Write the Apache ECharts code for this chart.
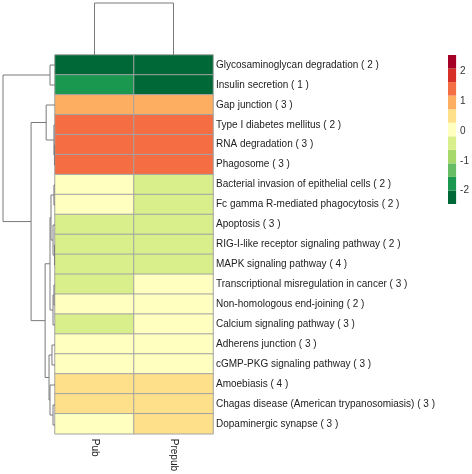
<!DOCTYPE html>
<html><head><meta charset="utf-8">
<script src="https://cdn.jsdelivr.net/npm/echarts@6/dist/echarts.min.js"></script>
<style>html,body{margin:0;padding:0;background:#fff}#c{width:472px;height:474px}</style>
</head><body><div id="c"></div>
<script>
// ---- data ----
const columns = ['Pub', 'Prepub'];
const pathways = [
  'Glycosaminoglycan degradation ( 2 )',
  'Insulin secretion ( 1 )',
  'Gap junction ( 3 )',
  'Type I diabetes mellitus ( 2 )',
  'RNA degradation ( 3 )',
  'Phagosome ( 3 )',
  'Bacterial invasion of epithelial cells ( 2 )',
  'Fc gamma R-mediated phagocytosis ( 2 )',
  'Apoptosis ( 3 )',
  'RIG-I-like receptor signaling pathway ( 2 )',
  'MAPK signaling pathway ( 4 )',
  'Transcriptional misregulation in cancer ( 3 )',
  'Non-homologous end-joining ( 2 )',
  'Calcium signaling pathway ( 3 )',
  'Adherens junction ( 3 )',
  'cGMP-PKG signaling pathway ( 3 )',
  'Amoebiasis ( 4 )',
  'Chagas disease (American trypanosomiasis) ( 3 )',
  'Dopaminergic synapse ( 3 )'
];
const pubValues    = [-2.25, -1.75, 0.95, 1.42, 1.40, 1.40, 0.08, 0.05, -0.40, -0.38, -0.45, -0.35, 0.10, -0.30, 0.12, 0.10, 0.55, 0.60, 0.15];
const prepubValues = [-2.20, -2.30, 0.92, 1.40, 1.45, 1.42, -0.40, -0.35, -0.45, -0.40, -0.42, 0.10, 0.15, 0.12, 0.08, 0.18, 0.60, 0.55, 0.60];
const legendTicks = [-2, -1, 0, 1, 2];
const colorMin = -2.45, colorMax = 2.55;
const palette = ['#006837','#1a9850','#66bd63','#a6d96a','#d9ef8b','#ffffbf','#fee08b','#fdae61','#f46d43','#d73027','#a50026'];
// dendrograms: [height, left, right]; leaves = row/column index
const rowTree = [1.0,
  [0.096, 0, 1],
  [0.46,
    [0.17, 2, [0.02, 3, [0.01, 4, 5]]],
    [0.19,
      [0.096,
        [0.077, [0.02, 6, 7], [0.038, 8, [0.01, 9, 10]]],
        [0.038, [0.02, 11, 12], 13]
      ],
      [0.115,
        [0.058, 14, 15],
        [0.096, 16, [0.038, 17, 18]]
      ]
    ]
  ]
];
const colTree = [1.0, 0, 1];

// ---- build ----
function layoutTree(node, segs) {
  if (typeof node === 'number') return { pos: node + 0.5, h: 0 };
  const L = layoutTree(node[1], segs), R = layoutTree(node[2], segs);
  segs.push([L.pos, R.pos, L.h, R.h, node[0]]);
  return { pos: (L.pos + R.pos) / 2, h: node[0] };
}
const rowSegs = []; layoutTree(rowTree, rowSegs);
const colSegs = []; layoutTree(colTree, colSegs);

const heatData = [];
pathways.forEach((p, i) => {
  heatData.push([0, i, pubValues[i]]);
  heatData.push([1, i, prepubValues[i]]);
});
const step = (colorMax - colorMin) / palette.length;
const pieces = palette.map((c, i) => ({ gte: colorMin + i * step - (i === 0 ? 10 : 0), lt: colorMin + (i + 1) * step + (i === palette.length - 1 ? 10 : 0), color: c }));
const barData = palette.map((c, i) => [0, colorMin + i * step, colorMin + (i + 0.5) * step, colorMin + (i + 1) * step]);

const lineStyle = { stroke: '#7a7a7a', lineWidth: 1, fill: null };
const font = 'Liberation Sans, Arial, sans-serif';
const hidden = { show: false };

const chart = echarts.init(document.getElementById('c'), null, { renderer: 'canvas' });
chart.setOption({
  animation: false,
  backgroundColor: '#fff',
  grid: [
    { left: 55, top: 55, width: 158, height: 380 },   // heatmap
    { left: 3, top: 55, width: 52, height: 380 },     // row dendrogram
    { left: 55, top: 3, width: 158, height: 52 },     // column dendrogram
    { left: 448, top: 55, width: 9, height: 149 }     // colour key
  ],
  xAxis: [
    { gridIndex: 0, type: 'category', data: columns, position: 'bottom',
      axisLine: hidden, axisTick: hidden, splitLine: hidden,
      axisLabel: { rotate: -90, margin: 5, fontSize: 10, color: '#222', fontFamily: font } },
    { gridIndex: 1, type: 'value', min: 0, max: 1, inverse: true, show: false },
    { gridIndex: 2, type: 'value', min: 0, max: 2, show: false },
    { gridIndex: 3, type: 'value', min: 0, max: 1, show: false }
  ],
  yAxis: [
    { gridIndex: 0, type: 'category', data: pathways, inverse: true, position: 'right',
      axisLine: hidden, axisTick: hidden, splitLine: hidden,
      axisLabel: { margin: 3, fontSize: 10, color: '#222', fontFamily: font } },
    { gridIndex: 1, type: 'value', min: 0, max: pathways.length, inverse: true, show: false },
    { gridIndex: 2, type: 'value', min: 0, max: 1, show: false },
    { gridIndex: 3, type: 'value', min: colorMin, max: colorMax, position: 'right',
      axisLine: hidden, axisTick: hidden, splitLine: hidden,
      axisLabel: { customValues: legendTicks, margin: 4, fontSize: 10, color: '#333', fontFamily: font } }
  ],
  visualMap: {
    type: 'piecewise', show: false, dimension: 2, seriesIndex: [0, 3], pieces: pieces
  },
  series: [
    { type: 'heatmap', xAxisIndex: 0, yAxisIndex: 0, data: heatData,
      itemStyle: { borderColor: '#a3a3a3', borderWidth: 1 }, emphasis: { disabled: true } },
    { type: 'custom', xAxisIndex: 1, yAxisIndex: 1, data: rowSegs, silent: true,
      renderItem: (params, api) => {
        const lp = api.value(0), rp = api.value(1), lh = api.value(2), rh = api.value(3), h = api.value(4);
        return { type: 'polyline', shape: { points: [api.coord([lh, lp]), api.coord([h, lp]), api.coord([h, rp]), api.coord([rh, rp])] }, style: lineStyle };
      } },
    { type: 'custom', xAxisIndex: 2, yAxisIndex: 2, data: colSegs, silent: true,
      renderItem: (params, api) => {
        const lp = api.value(0), rp = api.value(1), lh = api.value(2), rh = api.value(3), h = api.value(4);
        return { type: 'polyline', shape: { points: [api.coord([lp, lh]), api.coord([lp, h]), api.coord([rp, h]), api.coord([rp, rh])] }, style: lineStyle };
      } },
    { type: 'custom', xAxisIndex: 3, yAxisIndex: 3, data: barData, silent: true,
      encode: { x: 0, y: [1, 3] },
      renderItem: (params, api) => {
        const p0 = api.coord([0, api.value(3)]), p1 = api.coord([1, api.value(1)]);
        return { type: 'rect', shape: { x: p0[0], y: p0[1], width: p1[0] - p0[0], height: p1[1] - p0[1] }, style: { fill: api.visual('color') } };
      } }
  ]
});
</script></body></html>
